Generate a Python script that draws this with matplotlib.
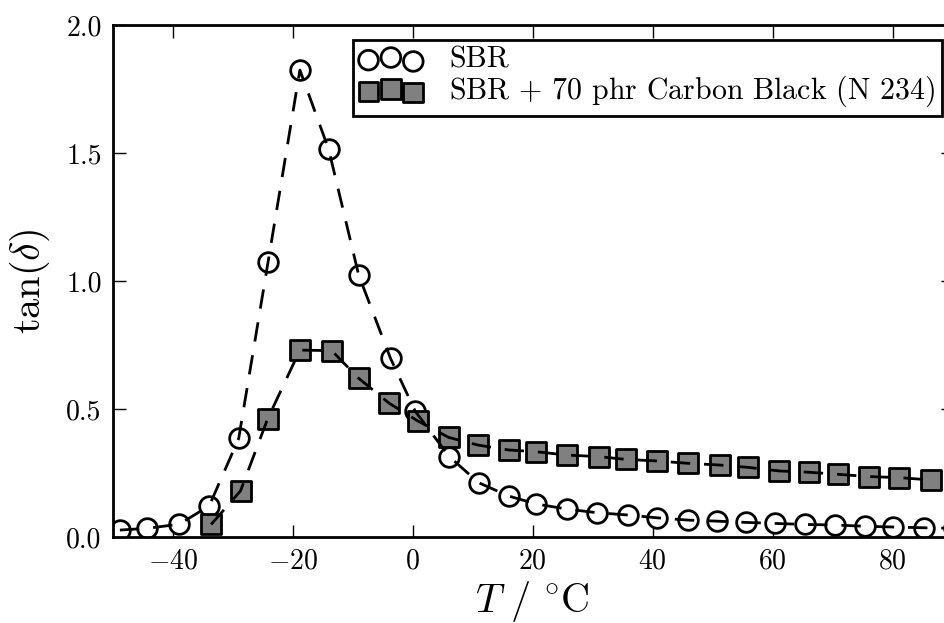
import matplotlib
matplotlib.use("Agg")
import matplotlib.pyplot as plt

plt.rcParams['font.family'] = 'serif'
plt.rcParams['font.serif'] = ['cmr10', 'DejaVu Serif']
plt.rcParams['mathtext.fontset'] = 'cm'
plt.rcParams['axes.formatter.use_mathtext'] = True

# SBR (unfilled)
T_sbr = [-48.8, -44.2, -38.9, -33.9, -29.0, -24.1, -18.8, -14.0, -9.0, -3.7,
         0.4, 6.1, 11.0, 16.0, 20.6, 25.7, 30.7, 35.8, 40.7, 45.9,
         50.7, 55.5, 60.4, 65.4, 70.3, 75.3, 80.1, 85.2, 90.2]
tan_sbr = [0.027, 0.034, 0.050, 0.122, 0.385, 1.075, 1.824, 1.514, 1.023, 0.698,
           0.492, 0.314, 0.212, 0.160, 0.129, 0.109, 0.095, 0.086, 0.075, 0.066,
           0.062, 0.057, 0.053, 0.049, 0.047, 0.042, 0.039, 0.036, 0.034]

# SBR + 70 phr carbon black
T_cb = [-33.6, -28.7, -24.2, -18.8, -13.5, -9.0, -3.9, 0.8, 6.0, 10.9,
        16.0, 20.6, 25.7, 31.0, 35.6, 40.7, 45.8, 51.2, 55.9, 61.1,
        66.0, 70.8, 76.1, 81.0, 86.3]
tan_cb = [0.049, 0.180, 0.460, 0.730, 0.728, 0.620, 0.522, 0.454, 0.389, 0.359,
          0.340, 0.333, 0.320, 0.314, 0.303, 0.297, 0.288, 0.281, 0.272, 0.258,
          0.253, 0.245, 0.236, 0.232, 0.223]

fig = plt.figure(figsize=(9.44, 6.23), dpi=100)
ax = fig.add_axes([112.7 / 944, 86 / 623, 840 / 944, 512 / 623])

ax.scatter(T_sbr, tan_sbr, s=200, marker='o', facecolors='white',
           edgecolors='black', linewidths=2, zorder=2, label='SBR')
ax.scatter(T_cb, tan_cb, s=200, marker='s', facecolors='#808080',
           edgecolors='black', linewidths=2, zorder=2,
           label=r'SBR $+$ 70 phr Carbon Black (N 234)')
ax.plot(T_sbr, tan_sbr, color='black', lw=2, dashes=(7, 5), zorder=3)
ax.plot(T_cb, tan_cb, color='black', lw=2, dashes=(7, 5), zorder=3)

ax.set_xlim(-50, 90)
ax.set_ylim(0, 2.0)
ax.set_xticks([-40, -20, 0, 20, 40, 60, 80])
ax.set_yticks([0.0, 0.5, 1.0, 1.5, 2.0])
ax.set_yticklabels(['0.0', '0.5', '1.0', '1.5', '2.0'])

ax.tick_params(direction='in', length=9, width=1, labelsize=20, pad=8,
               top=True, right=True)
for sp in ax.spines.values():
    sp.set_linewidth(2)

ax.set_xlabel(r'$T\ /\ ^{\circ}\mathrm{C}$', fontsize=29, labelpad=3)
ax.set_ylabel(r'$\tan(\delta)$', fontsize=29, labelpad=10)

leg = ax.legend(loc='upper right', bbox_to_anchor=(942 / 944, 1 - 40 / 623),
                bbox_transform=fig.transFigure, borderaxespad=0,
                scatterpoints=3, scatteryoffsets=[0.375, 0.5, 0.3125],
                fancybox=False, framealpha=1, edgecolor='black', fontsize=21.5,
                borderpad=0.22, labelspacing=0.0, handlelength=2.1,
                handletextpad=0.9)
leg.get_frame().set_linewidth(2)

fig.savefig('out.png', dpi=100)
